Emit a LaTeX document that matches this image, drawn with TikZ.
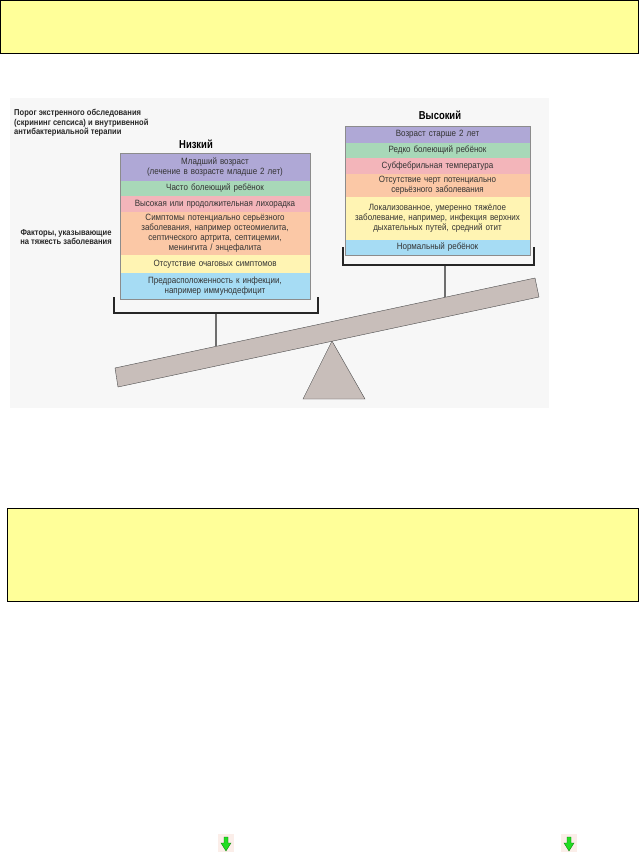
\documentclass[tikz,border=0pt]{standalone}
\usepackage{fontspec}
\setmainfont{Liberation Sans}
\newfontfamily\condfont[FakeStretch=0.88]{Liberation Sans}
\newfontfamily\headfont[FakeStretch=0.82]{Liberation Sans}
\usetikzlibrary{positioning,fit,calc}
\definecolor{NoteYellow}{HTML}{FFFF99}
\definecolor{PanelGray}{HTML}{F7F7F7}
\definecolor{RowPurple}{HTML}{AFA8D6}
\definecolor{RowGreen}{HTML}{A8D8B8}
\definecolor{RowPink}{HTML}{F3B5BA}
\definecolor{RowOrange}{HTML}{FBC8A6}
\definecolor{RowYellow}{HTML}{FFF4B3}
\definecolor{RowBlue}{HTML}{A6DCF4}
\definecolor{BeamGray}{HTML}{C8BEBA}
\definecolor{ArrowGreen}{HTML}{22DD22}
\definecolor{ArrowGlow}{HTML}{FBEEE9}
\tikzstyle{note} = [draw=black,fill=NoteYellow,line width=0.8pt]
\tikzstyle{row} = [inner sep=0pt,outer sep=0pt,align=center,font=\condfont\fontsize{9.1}{10}\selectfont,text=black!80]
\tikzstyle{lrow} = [row,text width=190pt]
\tikzstyle{rrow} = [row,text width=185pt]
\tikzstyle{heading} = [font=\headfont\bfseries\fontsize{11.5}{12}\selectfont,inner sep=0pt]
\tikzstyle{caption} = [font=\condfont\bfseries\fontsize{8.6}{9.7}\selectfont,inner sep=0pt,text=black!85]
\tikzstyle{bracket} = [line width=1.2pt,black!85]
\tikzstyle{weight} = [fill=BeamGray,draw=black!70,line width=0.4pt]

\begin{document}
\begin{tikzpicture}[x=1pt,y=-1pt]
	\useasboundingbox (0,0) rectangle (639,852);
	
	% yellow notes
	\draw[note] (0.5,0.5) rectangle (638.5,53);
	\draw[note] (7.5,508) rectangle (638.5,601);
	
	\fill[PanelGray] (10,98) rectangle (549,408);
	
	\node[caption,anchor=north west,align=left] (thresh) at (14,109) {Порог экстренного обследования\\(скрининг сепсиса) и внутривенной\\антибактериальной терапии};
	\node[caption,align=center] (factors) at (66,237) {Факторы, указывающие\\на тяжесть заболевания};
	
	\node[heading] (low) at (196,144) {Низкий};
	\node[heading] (high) at (440,115) {Высокий};
	
	% low side
	\node[lrow,fill=RowPurple,minimum height=28pt,anchor=north] (lage) at (215,153) {Младший возраст\\(лечение в возрасте младше 2 лет)};
	\node[lrow,fill=RowGreen,minimum height=15pt,below=0pt of lage] (lsick) {Часто болеющий ребёнок};
	\node[lrow,fill=RowPink,minimum height=16pt,below=0pt of lsick] (lfever) {Высокая или продолжительная лихорадка};
	\node[lrow,fill=RowOrange,minimum height=43pt,below=0pt of lfever] (lsympt) {Симптомы потенциально серьёзного\\заболевания, например остеомиелита,\\септического артрита, септицемии,\\менингита / энцефалита};
	\node[lrow,fill=RowYellow,minimum height=18pt,below=0pt of lsympt] (lfocal) {Отсутствие очаговых симптомов};
	\node[lrow,fill=RowBlue,minimum height=26pt,below=0pt of lfocal] (limmun) {Предрасположенность к инфекции,\\например иммунодефицит};
	\node[fit=(lage)(limmun),draw=black!45,line width=0.4pt,inner sep=0pt] (lbox) {};
	
	% high side
	\node[rrow,fill=RowPurple,minimum height=17pt,anchor=north] (rage) at (437.5,126) {Возраст старше 2 лет};
	\node[rrow,fill=RowGreen,minimum height=15pt,below=0pt of rage] (rsick) {Редко болеющий ребёнок};
	\node[rrow,fill=RowPink,minimum height=16pt,below=0pt of rsick] (rtemp) {Субфебрильная температура};
	\node[rrow,fill=RowOrange,minimum height=23pt,below=0pt of rtemp] (rserious) {Отсутствие черт потенциально\\серьёзного заболевания};
	\node[rrow,fill=RowYellow,minimum height=43pt,below=0pt of rserious] (rlocal) {Локализованное, умеренно тяжёлое\\заболевание, например, инфекция верхних\\дыхательных путей, средний отит};
	\node[rrow,fill=RowBlue,minimum height=15pt,below=0pt of rlocal] (rnormal) {Нормальный ребёнок};
	\node[fit=(rage)(rnormal),draw=black!45,line width=0.4pt,inner sep=0pt] (rbox) {};
	
	% seesaw
	\coordinate (bl) at (118,387);
	\coordinate (tl) at (115,368);
	\coordinate (tr) at (535,278);
	\coordinate (br) at (539,297);
	\coordinate (lpivot) at ($(tl)!0.2405!(tr)$);
	\coordinate (rpivot) at ($(tl)!0.7857!(tr)$);
	
	\coordinate (lbl) at (114,297);
	\coordinate (lbr) at (318,297);
	\coordinate (lhang) at (216,313);
	\draw[bracket] (lbl) -- ++(0,16) -| (lbr);
	\draw[bracket] (lhang) -- (lpivot);
	
	\coordinate (rbl) at (343,247);
	\coordinate (rbr) at (534,247);
	\coordinate (rhang) at (445,265);
	\draw[bracket] (rbl) -- ++(0,18) -| (rbr);
	\draw[bracket] (rhang) -- (rpivot);
	
	\coordinate (apex) at (332,341);
	\coordinate (fl) at (303,399);
	\coordinate (fr) at (365,399);
	\draw[weight] (apex) -- (fr) -- (fl) -- cycle;
	\draw[weight] (bl) -- (tl) -- (tr) -- (br) -- cycle;
	
	% arrows at the foot
	\foreach \ax in {226,569} {
		\fill[ArrowGlow] ({\ax-8},834) rectangle ({\ax+8},852);
		\draw[fill=ArrowGreen,draw=green!45!black,line width=0.3pt] ({\ax-2},837) -- ({\ax+2},837) -- ({\ax+2},843) -- ({\ax+5},843) -- (\ax,851) -- ({\ax-5},843) -- ({\ax-2},843) -- cycle;
	}
\end{tikzpicture}
\end{document}
